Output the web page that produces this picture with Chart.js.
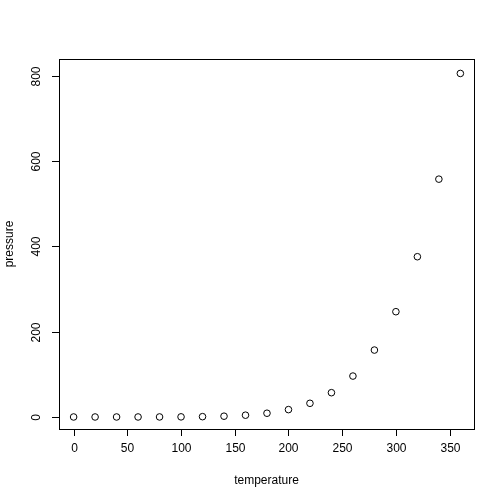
<!DOCTYPE html>
<html><head><meta charset="utf-8">
<script src="https://cdn.jsdelivr.net/npm/chart.js@4"></script>
<style>html,body{margin:0;padding:0;background:#fff}#w{width:504px;height:504px}</style>
</head><body><div id="w"><canvas id="c"></canvas></div>
<script>
const temperature = [0,20,40,60,80,100,120,140,160,180,200,220,240,260,280,300,320,340,360];
const pressure = [0.0002,0.0012,0.006,0.03,0.09,0.27,0.75,1.85,4.2,8.8,17.3,32.1,57,96,157,247,376,558,806];
const xTicks = [0,50,100,150,200,250,300,350];
const yTicks = [0,200,400,600,800];
const FONT = '12px "Liberation Sans", Arial, sans-serif';
const axesPlugin = {
  id:'rAxes',
  afterDraw(chart){
    const ctx=chart.ctx, a=chart.chartArea, xs=chart.scales.x, ys=chart.scales.y;
    ctx.save();
    ctx.strokeStyle='#000'; ctx.lineWidth=1; ctx.fillStyle='#000'; ctx.font=FONT;
    ctx.strokeRect(Math.round(a.left)+0.5,Math.round(a.top)+0.5,Math.round(a.right-a.left),Math.round(a.bottom-a.top));
    const by=Math.round(a.bottom)+0.5+0;
    // x axis line
    const x0=xs.getPixelForValue(xTicks[0]), x1=xs.getPixelForValue(xTicks[xTicks.length-1]);
    const ay=a.bottom+0;
    ctx.textAlign='center'; ctx.textBaseline='top';
    xTicks.forEach(t=>{const px=Math.round(xs.getPixelForValue(t))+0.5;
      ctx.beginPath();ctx.moveTo(px,ay);ctx.lineTo(px,ay+7);ctx.stroke();
      ctx.fillText(String(t),px,ay+14);});
    yTicks.forEach(t=>{const py=Math.round(ys.getPixelForValue(t))+0.5;
      ctx.beginPath();ctx.moveTo(a.left,py);ctx.lineTo(a.left-7,py);ctx.stroke();
      ctx.save();ctx.translate(a.left-16,py);ctx.rotate(-Math.PI/2);
      ctx.textAlign='center';ctx.textBaseline='bottom';ctx.fillText(String(t),0,0);ctx.restore();});
    ctx.textAlign='center';ctx.textBaseline='middle';
    ctx.fillText('temperature',(a.left+a.right)/2,481);
    ctx.save();ctx.translate(10,(a.top+a.bottom)/2);ctx.rotate(-Math.PI/2);ctx.fillText('pressure',0,0);ctx.restore();
    ctx.restore();
  }
};
new Chart(document.getElementById('c'),{
  type:'scatter',
  data:{datasets:[{data:temperature.map((t,i)=>({x:t,y:pressure[i]})),
    pointRadius:3.3,pointBorderColor:'#000',pointBackgroundColor:'rgba(0,0,0,0)',pointBorderWidth:1,showLine:false}]},
  options:{responsive:true,maintainAspectRatio:false,animation:false,
    layout:{padding:{left:59,right:30,top:59,bottom:75}},
    plugins:{legend:{display:false},tooltip:{enabled:false}},
    scales:{x:{type:'linear',display:false,min:-13.6,max:372.7},
            y:{type:'linear',display:false,min:-28.2,max:839.9}}},
  plugins:[axesPlugin]
});
</script></body></html>
